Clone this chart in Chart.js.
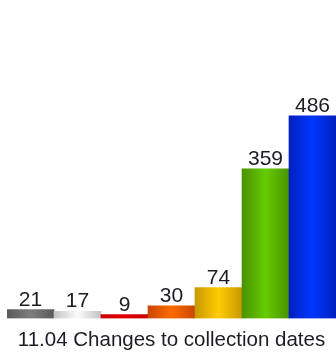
<!DOCTYPE html>
<html>
<head>
<meta charset="utf-8">
<script src="https://cdn.jsdelivr.net/npm/chart.js@4/dist/chart.umd.min.js"></script>
<style>
    html, body { margin: 0; padding: 0; background: #fff; overflow: hidden; }
    #wrap { width: 336px; height: 356px; }
</style>
</head>
<body>
<div id="wrap"><canvas id="myChart"></canvas></div>
<script>
    var labels = ["A", "B", "C", "D", "E", "F", "G"];
    var counts = [21, 17, 9, 30, 74, 359, 486];
    var chartTitle = "11.04 Changes to collection dates";

    // edge / middle colour of each bar, gives the rounded tube look
    var edgeColors = ['#5a5a5a', '#c4c4c4', '#c80000', '#c84600', '#c89800', '#4a9200', '#0020c0'];
    var midColors = ['#7e7e7e', '#fafafa', '#e40000', '#ff6a00', '#ffcc00', '#66cc00', '#0036ff'];

    function barFill(context) {
        var chart = context.chart;
        var i = context.dataIndex;
        if (!chart.chartArea) {
            return midColors[i];
        }
        var xs = chart.scales.x;
        var half = (xs.width / labels.length) / 2;
        var cx = xs.getPixelForValue(i);
        var g = chart.ctx.createLinearGradient(cx - half, 0, cx + half, 0);
        g.addColorStop(0, edgeColors[i]);
        g.addColorStop(0.5, midColors[i]);
        g.addColorStop(1, edgeColors[i]);
        return g;
    }

    // value printed above every bar
    var valueLabels = {
        id: 'valueLabels',
        afterDatasetsDraw: function (chart) {
            var ctx = chart.ctx;
            var meta = chart.getDatasetMeta(0);
            ctx.save();
            ctx.font = '21px "Liberation Sans", Arial, sans-serif';
            ctx.fillStyle = '#1c1c24';
            ctx.textAlign = 'center';
            ctx.textBaseline = 'alphabetic';
            meta.data.forEach(function (bar, i) {
                ctx.fillText(String(counts[i]), bar.x, bar.y - 4);
            });
            ctx.restore();
        }
    };

    var ctx = document.getElementById("myChart");
    var myChart = new Chart(ctx, {
        type: 'bar',
        data: {
            labels: labels,
            datasets: [{
                data: counts,
                backgroundColor: barFill,
                borderWidth: 0,
                categoryPercentage: 1.0,
                barPercentage: 1.0
            }]
        },
        options: {
            animation: false,
            responsive: true,
            maintainAspectRatio: false,
            layout: {
                padding: { top: 110, left: 7, right: 0, bottom: 0 }
            },
            plugins: {
                legend: { display: false },
                tooltip: { enabled: false },
                title: {
                    display: true,
                    text: chartTitle,
                    position: 'bottom',
                    color: '#1c1c24',
                    font: {
                        family: '"Liberation Sans", Arial, sans-serif',
                        size: 20.5,
                        weight: 'normal',
                        lineHeight: 1.2
                    },
                    padding: { top: 10, bottom: 3 }
                }
            },
            scales: {
                x: { display: false },
                y: { display: false, min: 0, max: 500 }
            }
        },
        plugins: [valueLabels]
    });
</script>
</body>
</html>
